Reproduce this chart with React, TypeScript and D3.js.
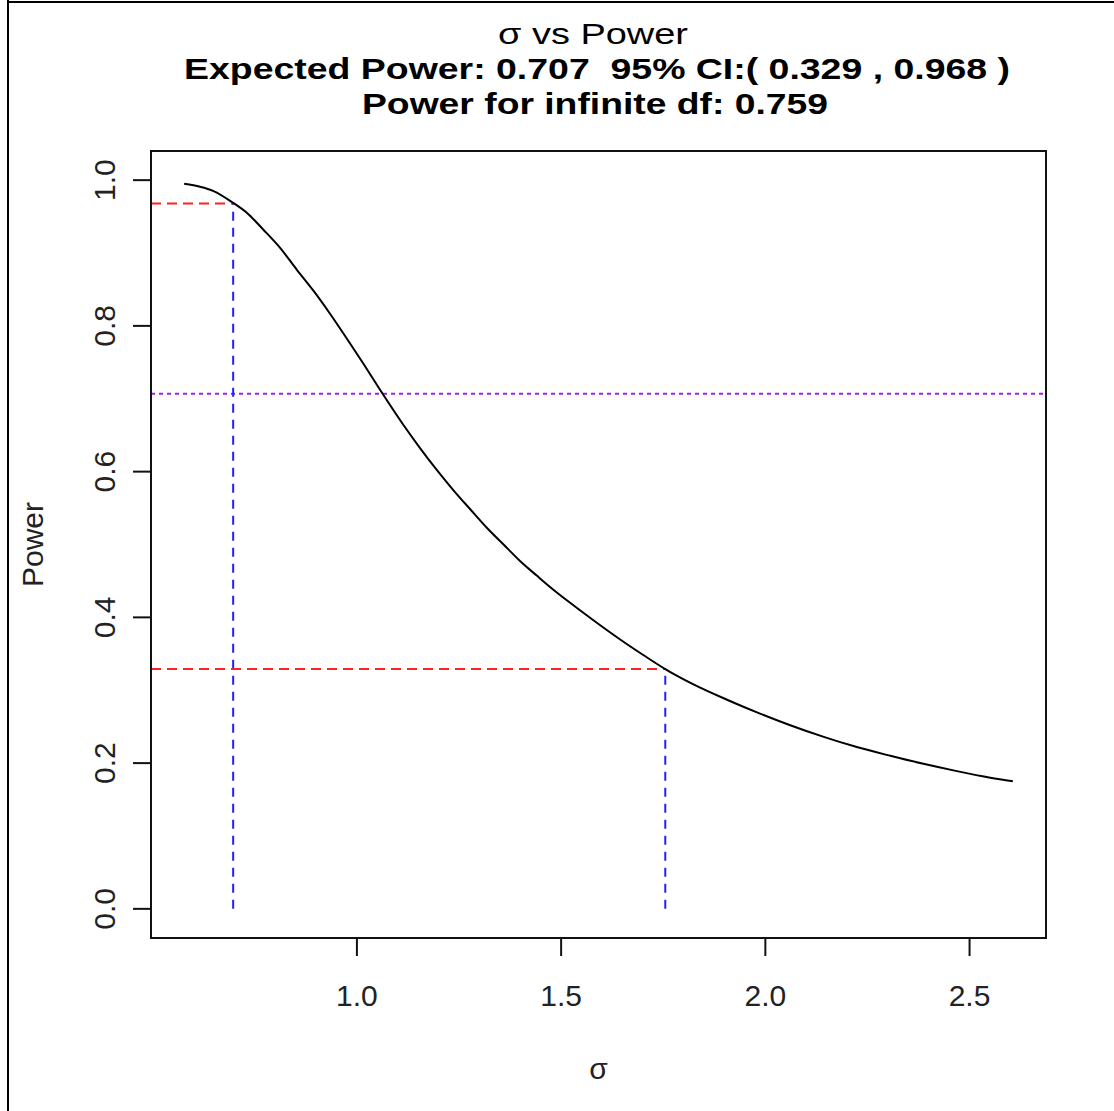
import React, { useEffect, useRef } from "react";
import * as d3 from "d3";

// sigma values along the curve
const sigmaValues = [
  0.577, 0.616, 0.649, 0.694, 0.731, 0.771, 0.812, 0.853, 0.894, 0.935, 0.976,
  1.016, 1.057, 1.114, 1.155, 1.196, 1.237, 1.278, 1.318, 1.359, 1.4, 1.441,
  1.481, 1.522, 1.579, 1.641, 1.702, 1.755, 1.824, 1.906, 1.987, 2.061, 2.143,
  2.224, 2.306, 2.387, 2.469, 2.551, 2.606,
];
// power at each sigma
const powerValues = [
  0.995, 0.991, 0.985, 0.97, 0.955, 0.932, 0.907, 0.877, 0.848, 0.816, 0.782,
  0.748, 0.712, 0.664, 0.632, 0.602, 0.574, 0.548, 0.523, 0.5, 0.477, 0.457,
  0.438, 0.42, 0.396, 0.371, 0.348, 0.329, 0.308, 0.287, 0.268, 0.252, 0.236,
  0.222, 0.21, 0.199, 0.189, 0.18, 0.175,
];

// confidence interval markers: [sigma, power]
const ciSigma = [0.697, 1.755];
const ciPower = [0.968, 0.329];
const expectedPower = 0.707;

const xTicks = [1.0, 1.5, 2.0, 2.5];
const yTicks = [0, 0.2, 0.4, 0.6, 0.8, 1.0];

const titleLines = [
  "σ vs Power",
  "Expected Power: 0.707  95% CI:( 0.329 , 0.968 )",
  "Power for infinite df: 0.759",
];

const App = () => {
  const svgRef = useRef(null);

  useEffect(() => {
    const W = 1114;
    const H = 1111;
    const plot = { left: 151, right: 1046, top: 151, bottom: 938 };
    const font = "'Liberation Sans', Arial, sans-serif";

    const svg = d3.select(svgRef.current);
    svg.selectAll("*").remove();

    svg.append("rect").attr("width", W).attr("height", H).attr("fill", "#fff");

    // frame edges
    svg.append("line").attr("x1", 8).attr("x2", 8).attr("y1", 0).attr("y2", H)
      .attr("stroke", "#000").attr("stroke-width", 2);
    svg.append("line").attr("x1", 7).attr("x2", W).attr("y1", 2).attr("y2", 2)
      .attr("stroke", "#000").attr("stroke-width", 2);

    // R style 4% padding on the data range
    const xr = d3.extent(sigmaValues) as [number, number];
    const xPad = (xr[1] - xr[0]) * 0.04;
    const x = d3.scaleLinear()
      .domain([xr[0] - xPad, xr[1] + xPad])
      .range([plot.left, plot.right]);
    const y = d3.scaleLinear()
      .domain([-0.04, 1.04])
      .range([plot.bottom, plot.top]);

    const data = sigmaValues.map((s, i) => ({ s, p: powerValues[i] }));

    // purple dotted expected power
    svg.append("line")
      .attr("x1", plot.left).attr("x2", plot.right)
      .attr("y1", y(expectedPower)).attr("y2", y(expectedPower))
      .attr("stroke", "#a020f0").attr("stroke-width", 2)
      .attr("stroke-dasharray", "4 4");

    // red horizontal and blue vertical CI segments
    ciSigma.forEach((s, i) => {
      svg.append("line")
        .attr("x1", plot.left).attr("x2", x(s))
        .attr("y1", y(ciPower[i])).attr("y2", y(ciPower[i]))
        .attr("stroke", "#ff2020").attr("stroke-width", 2)
        .attr("stroke-dasharray", "10 6");
      svg.append("line")
        .attr("x1", x(s)).attr("x2", x(s))
        .attr("y1", y(0)).attr("y2", y(ciPower[i]))
        .attr("stroke", "#2020ff").attr("stroke-width", 2)
        .attr("stroke-dasharray", "9 7");
    });

    // power curve
    const line = d3.line<{ s: number; p: number }>()
      .x((d) => x(d.s))
      .y((d) => y(d.p))
      .curve(d3.curveMonotoneX);
    svg.append("path")
      .datum(data)
      .attr("fill", "none")
      .attr("stroke", "#000")
      .attr("stroke-width", 2)
      .attr("d", line);

    // plot box
    svg.append("rect")
      .attr("x", plot.left).attr("y", plot.top)
      .attr("width", plot.right - plot.left).attr("height", plot.bottom - plot.top)
      .attr("fill", "none").attr("stroke", "#111").attr("stroke-width", 2);

    // x axis ticks and labels
    const xg = svg.append("g");
    xTicks.forEach((t) => {
      xg.append("line")
        .attr("x1", x(t)).attr("x2", x(t))
        .attr("y1", plot.bottom).attr("y2", plot.bottom + 18)
        .attr("stroke", "#111").attr("stroke-width", 2);
      xg.append("text")
        .attr("x", x(t)).attr("y", 1006)
        .attr("text-anchor", "middle")
        .style("font-family", font).style("font-size", "30px").attr("fill", "#222")
        .text(t.toFixed(1));
    });

    // y axis ticks and labels
    const yg = svg.append("g");
    yTicks.forEach((t) => {
      yg.append("line")
        .attr("x1", plot.left - 18).attr("x2", plot.left)
        .attr("y1", y(t)).attr("y2", y(t))
        .attr("stroke", "#111").attr("stroke-width", 2);
      yg.append("text")
        .attr("transform", `translate(115,${y(t)}) rotate(-90)`)
        .attr("text-anchor", "middle")
        .style("font-family", font).style("font-size", "30px").attr("fill", "#222")
        .text(t.toFixed(1));
    });

    // axis titles
    svg.append("text")
      .attr("x", (plot.left + plot.right) / 2).attr("y", 1079)
      .attr("text-anchor", "middle")
      .style("font-family", font).style("font-size", "30px").attr("fill", "#222")
      .text("σ");
    svg.append("text")
      .attr("transform", `translate(43,${(plot.top + plot.bottom) / 2}) rotate(-90)`)
      .attr("text-anchor", "middle")
      .style("font-family", font).style("font-size", "30px").attr("fill", "#222")
      .text("Power");

    // title, widths matched to the reference
    const baselines = [44, 79, 114];
    const widths = [190, 826, 466];
    const centers = [593, 597, 595];
    titleLines.forEach((t, i) => {
      svg.append("text")
        .attr("x", centers[i]).attr("y", baselines[i])
        .attr("text-anchor", "middle")
        .attr("textLength", widths[i])
        .attr("lengthAdjust", "spacingAndGlyphs")
        .style("white-space", "pre")
        .style("font-family", font).style("font-size", "30px")
        .style("font-weight", i === 0 ? "normal" : "bold")
        .attr("fill", "#000")
        .text(t);
    });
  }, []);

  return (
    <svg
      ref={svgRef}
      width={1114}
      height={1111}
      style={{ position: "absolute", left: 0, top: 0, display: "block" }}
    />
  );
};

export default App;
